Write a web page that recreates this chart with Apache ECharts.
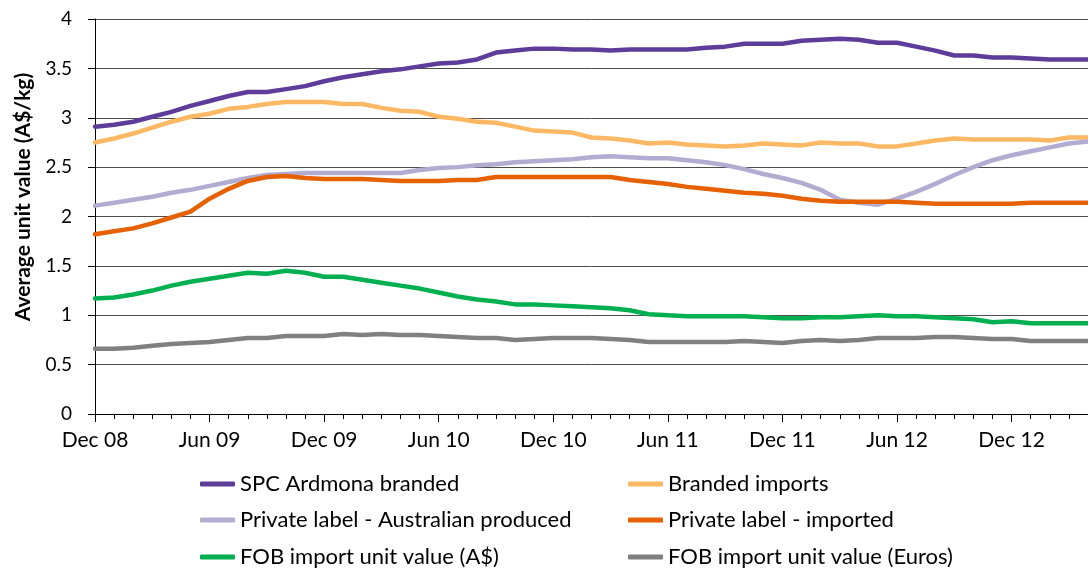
<!DOCTYPE html>
<html>
<head>
<meta charset="utf-8">
<title>Average unit value</title>
<script src="https://cdn.jsdelivr.net/npm/echarts@6/dist/echarts.min.js"></script>
<style>
  html, body { margin: 0; padding: 0; background: #ffffff; }
  #chart { width: 1088px; height: 571px; }
</style>
</head>
<body>
<div id="chart"></div>
<script>
// Monthly categories, Dec 08 to Apr 13
const months = [
  'Dec 08','Jan 09','Feb 09','Mar 09','Apr 09','May 09','Jun 09','Jul 09','Aug 09','Sep 09','Oct 09','Nov 09',
  'Dec 09','Jan 10','Feb 10','Mar 10','Apr 10','May 10','Jun 10','Jul 10','Aug 10','Sep 10','Oct 10','Nov 10',
  'Dec 10','Jan 11','Feb 11','Mar 11','Apr 11','May 11','Jun 11','Jul 11','Aug 11','Sep 11','Oct 11','Nov 11',
  'Dec 11','Jan 12','Feb 12','Mar 12','Apr 12','May 12','Jun 12','Jul 12','Aug 12','Sep 12','Oct 12','Nov 12',
  'Dec 12','Jan 13','Feb 13','Mar 13','Apr 13'
];

// Average unit values, A$/kg (FOB Euros series in euros/kg)
const spcArdmonaBranded = [
  2.91,2.93,2.96,3.01,3.06,3.12,3.17,3.22,3.26,3.26,3.29,3.32,
  3.37,3.41,3.44,3.47,3.49,3.52,3.55,3.56,3.59,3.66,3.68,3.70,
  3.70,3.69,3.69,3.68,3.69,3.69,3.69,3.69,3.71,3.72,3.75,3.75,
  3.75,3.78,3.79,3.80,3.79,3.76,3.76,3.72,3.68,3.63,3.63,3.61,
  3.61,3.60,3.59,3.59,3.59
];
const brandedImports = [
  2.75,2.79,2.84,2.90,2.96,3.01,3.04,3.09,3.11,3.14,3.16,3.16,
  3.16,3.14,3.14,3.10,3.07,3.06,3.01,2.99,2.96,2.95,2.91,2.87,
  2.86,2.85,2.80,2.79,2.77,2.74,2.75,2.73,2.72,2.71,2.72,2.74,
  2.73,2.72,2.75,2.74,2.74,2.71,2.71,2.74,2.77,2.79,2.78,2.78,
  2.78,2.78,2.77,2.80,2.80
];
const privateLabelAustralian = [
  2.11,2.14,2.17,2.20,2.24,2.27,2.31,2.35,2.39,2.42,2.43,2.44,
  2.44,2.44,2.44,2.44,2.44,2.47,2.49,2.50,2.52,2.53,2.55,2.56,
  2.57,2.58,2.60,2.61,2.60,2.59,2.59,2.57,2.55,2.52,2.48,2.43,
  2.39,2.34,2.27,2.17,2.14,2.12,2.18,2.25,2.33,2.42,2.50,2.57,
  2.62,2.66,2.70,2.74,2.76
];
const privateLabelImported = [
  1.82,1.85,1.88,1.93,1.99,2.05,2.18,2.28,2.36,2.40,2.41,2.39,
  2.38,2.38,2.38,2.37,2.36,2.36,2.36,2.37,2.37,2.40,2.40,2.40,
  2.40,2.40,2.40,2.40,2.37,2.35,2.33,2.30,2.28,2.26,2.24,2.23,
  2.21,2.18,2.16,2.15,2.15,2.15,2.15,2.14,2.13,2.13,2.13,2.13,
  2.13,2.14,2.14,2.14,2.14
];
const fobAud = [
  1.17,1.18,1.21,1.25,1.30,1.34,1.37,1.40,1.43,1.42,1.45,1.43,
  1.39,1.39,1.36,1.33,1.30,1.27,1.23,1.19,1.16,1.14,1.11,1.11,
  1.10,1.09,1.08,1.07,1.05,1.01,1.00,0.99,0.99,0.99,0.99,0.98,
  0.97,0.97,0.98,0.98,0.99,1.00,0.99,0.99,0.98,0.97,0.96,0.93,
  0.94,0.92,0.92,0.92,0.92
];
const fobEuros = [
  0.66,0.66,0.67,0.69,0.71,0.72,0.73,0.75,0.77,0.77,0.79,0.79,
  0.79,0.81,0.80,0.81,0.80,0.80,0.79,0.78,0.77,0.77,0.75,0.76,
  0.77,0.77,0.77,0.76,0.75,0.73,0.73,0.73,0.73,0.73,0.74,0.73,
  0.72,0.74,0.75,0.74,0.75,0.77,0.77,0.77,0.78,0.78,0.77,0.76,
  0.76,0.74,0.74,0.74,0.74
];

const seriesNames = [
  'SPC Ardmona branded',
  'Branded imports',
  'Private label - Australian produced',
  'Private label - imported',
  'FOB import unit value (A$)',
  'FOB import unit value (Euros)'
];
const seriesData = [spcArdmonaBranded, brandedImports, privateLabelAustralian,
                    privateLabelImported, fobAud, fobEuros];
const seriesColors = ['#5e3c99', '#fdb863', '#b2abd2', '#e66101', '#00b050', '#808080'];

const FONT = 'Lato, "Liberation Sans", sans-serif';

// legend slots: two columns, three rows
const legendCols = [200, 628];
const legendRows = [484, 520, 557];

const legends = seriesNames.map((name, i) => ({
  data: [{ name: name, icon: 'roundRect' }],
  left: legendCols[i % 2],
  top: legendRows[Math.floor(i / 2)] - 13,
  orient: 'horizontal',
  padding: 0,
  itemGap: 0,
  itemWidth: 35,
  itemHeight: 5,
  selectedMode: false,
  textStyle: { fontFamily: FONT, fontSize: 22, color: '#000', lineHeight: 26 }
}));

const series = seriesNames.map((name, i) => ({
  name: name,
  type: 'line',
  xAxisIndex: 0,
  yAxisIndex: 0,
  data: seriesData[i],
  showSymbol: false,
  symbol: 'none',
  smooth: false,
  clip: true,
  itemStyle: { color: seriesColors[i] },
  lineStyle: { color: seriesColors[i], width: 4.5, cap: 'round', join: 'round' },
  emphasis: { disabled: true },
  z: 2 + i
}));

const chart = echarts.init(document.getElementById('chart'), null, { renderer: 'canvas' });
chart.setOption({
  animation: false,
  backgroundColor: '#ffffff',
  grid: { left: 95, top: 19, width: 1003, height: 395, containLabel: false },
  legend: legends,
  xAxis: [
    {
      type: 'category',
      data: months,
      boundaryGap: false,
      position: 'bottom',
      axisLine: { show: true, lineStyle: { color: '#000', width: 1 } },
      axisTick: { show: true, interval: 0, length: 5, lineStyle: { color: '#000' } },
      axisLabel: { show: true, interval: 5, margin: 16, color: '#000',
                   fontFamily: FONT, fontSize: 21 },
      splitLine: { show: false }
    },
    {
      type: 'category',
      data: months,
      boundaryGap: false,
      position: 'bottom',
      offset: 0,
      axisLine: { show: false },
      axisTick: { show: true, interval: 5, length: 8, lineStyle: { color: '#000' } },
      axisLabel: { show: false },
      splitLine: { show: false }
    }
  ],
  yAxis: {
    type: 'value',
    min: 0,
    max: 4,
    interval: 0.5,
    axisLine: { show: true, lineStyle: { color: '#000', width: 1 } },
    axisTick: { show: true, length: 7, lineStyle: { color: '#000' } },
    axisLabel: { margin: 23, color: '#000', fontFamily: FONT, fontSize: 19 },
    splitLine: { show: true, lineStyle: { color: '#4d4d4d', width: 1 } }
  },
  graphic: [{
    type: 'text',
    x: 23,
    y: 197,
    rotation: Math.PI / 2,
    style: {
      text: 'Average unit value (A$/kg)',
      fontFamily: FONT,
      fontSize: 21,
      fontWeight: 'bold',
      fill: '#000',
      align: 'center',
      verticalAlign: 'middle'
    }
  }],
  series: series
});
</script>
</body>
</html>
